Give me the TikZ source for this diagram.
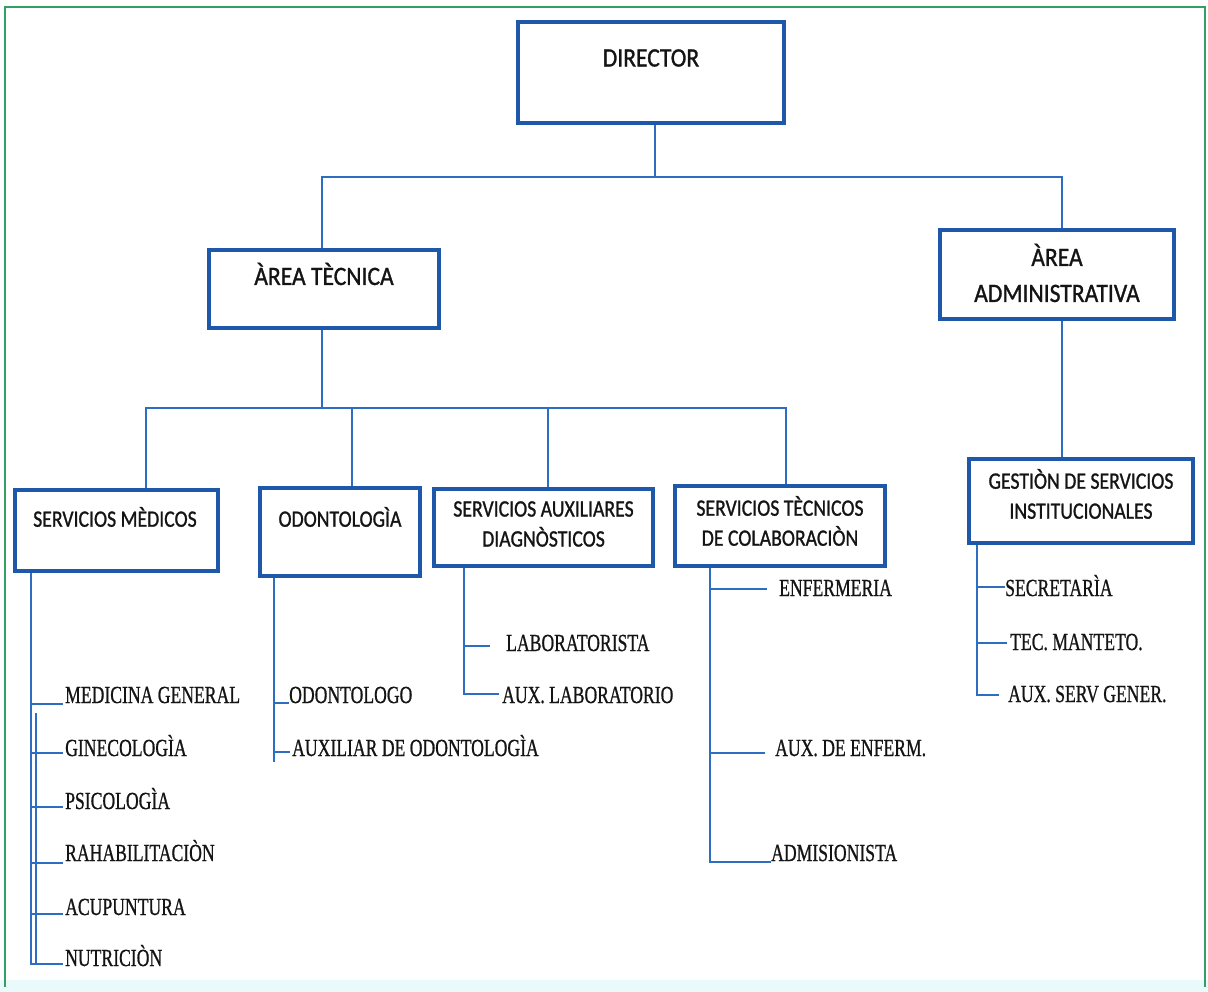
\documentclass[tikz,border=0pt]{standalone}
\usepackage{fontspec}
\setmainfont{Liberation Serif}
\newfontfamily\boxfont[FakeBold=1.2]{Carlito}
\newfontfamily\leaffont[FakeBold=1.0]{Liberation Serif}

\definecolor{boxblue}{RGB}{30,88,170}
\definecolor{lineblue}{RGB}{45,110,195}
\definecolor{framegreen}{RGB}{50,160,100}
\definecolor{inkblack}{RGB}{20,20,20}
\definecolor{bandcyan}{RGB}{234,250,250}

% horizontally condensed text
\newcommand{\cwide}[1]{\scalebox{0.89}[1]{#1}}
\newcommand{\cmed}[1]{\scalebox{0.84}[1]{#1}}
\newcommand{\cleaf}[1]{\scalebox{0.72}[1]{#1}}

\begin{document}
\begin{tikzpicture}[x=1pt,y=-1pt,
  boxst/.style={draw=boxblue, line width=4pt, inner sep=0pt},
  bigt/.style={font=\boxfont\fontsize{26.5}{36}\selectfont, text=inkblack, align=center, inner sep=0pt},
  smt/.style={font=\boxfont\fontsize{23.5}{30}\selectfont, text=inkblack, align=center, inner sep=0pt},
  leaf/.style={font=\leaffont\fontsize{24.5}{26}\selectfont, text=inkblack, anchor=base west, inner sep=0pt},
  conn/.style={draw=lineblue, line width=1.5pt},
]
\useasboundingbox (0,0) rectangle (1208,992);

% page frame and bottom band
\fill[bandcyan] (0,980) rectangle (1208,992);
\draw[framegreen, line width=1.3pt] (5,987) -- (5,7) -- (1205,7) -- (1205,987);

% ---- boxes ----
\node[boxst, minimum width=266pt, minimum height=101pt] (dir) at (651,72.5) {};
\node[bigt] (dirT) at (651,58) {\cwide{DIRECTOR}};

\node[boxst, minimum width=230pt, minimum height=78pt] (tec) at (324,289) {};
\node[bigt] (tecT) at (324,274) {\cwide{ÀREA TÈCNICA}};

\node[boxst, minimum width=234pt, minimum height=89pt] (adm) at (1057,274.5) {};
\node[bigt] (admT) at (1057,273) {\cwide{ÀREA}\\\cwide{ADMINISTRATIVA}};

\node[boxst, minimum width=203pt, minimum height=81pt] (med) at (116.5,530.5) {};
\node[smt] (medT) at (115,517) {\cmed{SERVICIOS MÈDICOS}};

\node[boxst, minimum width=160pt, minimum height=88pt] (odo) at (340,532) {};
\node[smt] (odoT) at (340,517) {\cmed{ODONTOLOGÌA}};

\node[boxst, minimum width=219pt, minimum height=77pt] (sad) at (543.5,527.5) {};
\node[smt] (sadT) at (543.5,524) {\cmed{SERVICIOS AUXILIARES}\\\cmed{DIAGNÒSTICOS}};

\node[boxst, minimum width=210pt, minimum height=80pt] (stc) at (780,526) {};
\node[smt] (stcT) at (780,521) {\cmed{SERVICIOS TÈCNICOS}\\\cmed{DE COLABORACIÒN}};

\node[boxst, minimum width=224pt, minimum height=84pt] (gsi) at (1081,501) {};
\node[smt] (gsiT) at (1081,494) {\cmed{GESTIÒN DE SERVICIOS}\\\cmed{INSTITUCIONALES}};

% ---- first level connectors ----
\coordinate (jd) at (655,177);
\coordinate (jl) at (322,177);
\coordinate (jr) at (1062,177);
\draw[conn] (jd|-dir.south) -- (jd);
\draw[conn, line width=2pt] (jl|-tec.north) -- (jl) -- (jr) -- (jr|-adm.north);

% ---- second level connectors ----
\coordinate (kt) at (322,408);
\coordinate (kl) at (146,408);
\coordinate (kr) at (786,408);
\coordinate (ko) at (352,408);
\coordinate (ks) at (548,408);
\draw[conn] (kt|-tec.south) -- (kt);
\draw[conn, line width=2pt] (kl|-med.north) -- (kl) -- (kr) -- (kr|-stc.north);
\draw[conn] (ko) -- (ko|-odo.north);
\draw[conn] (ks) -- (ks|-sad.north);
\draw[conn] (jr|-adm.south) -- (jr|-gsi.north);

% ---- leaves: servicios medicos ----
\node[leaf] (mg)  at (65,703) {\cleaf{MEDICINA GENERAL}};
\node[leaf] (gin) at (65,756) {\cleaf{GINECOLOGÌA}};
\node[leaf] (psi) at (65,809) {\cleaf{PSICOLOGÌA}};
\node[leaf] (rah) at (65,861) {\cleaf{RAHABILITACIÒN}};
\node[leaf] (acu) at (65,915) {\cleaf{ACUPUNTURA}};
\node[leaf] (nut) at (65,966) {\cleaf{NUTRICIÒN}};
\coordinate (vm) at (31,0);
\coordinate (vm2) at (36,713);
\draw[conn] (vm|-med.south) |- ([xshift=-2pt,yshift=2pt]nut.base west);
\draw[conn, line width=1.1pt] (vm2) -- ++(0,251);
\draw[conn] ([xshift=-2pt,yshift=-1pt]mg.base west) -- ++(-32,0);
\draw[conn] ([xshift=-2pt,yshift=3pt]gin.base west) -- ++(-32,0);
\draw[conn] ([xshift=-2pt,yshift=2pt]psi.base west) -- ++(-32,0);
\draw[conn] ([xshift=-2pt,yshift=-2pt]rah.base west) -- ++(-32,0);
\draw[conn] ([xshift=-2pt,yshift=1pt]acu.base west) -- ++(-32,0);

% ---- leaves: odontologia ----
\node[leaf] (odg) at (289,703) {\cleaf{ODONTOLOGO}};
\node[leaf] (aod) at (292,756) {\cleaf{AUXILIAR DE ODONTOLOGÌA}};
\coordinate (vo) at (274,762);
\draw[conn] (vo|-odo.south) -- (vo);
\draw[conn] ([yshift=0pt]odg.base west) -- ++(-15,0);
\draw[conn] ([xshift=-2pt,yshift=4pt]aod.base west) -- ++(-16,0);

% ---- leaves: servicios auxiliares ----
\node[leaf] (lab)  at (506,651) {\cleaf{LABORATORISTA}};
\node[leaf] (alab) at (502,703) {\cleaf{AUX. LABORATORIO}};
\coordinate (va) at (464,0);
\draw[conn] (va|-sad.south) |- ([xshift=-3pt,yshift=9pt]alab.base west);
\draw[conn] ([xshift=-16pt,yshift=5pt]lab.base west) -- ++(-26,0);

% ---- leaves: servicios tecnicos ----
\node[leaf] (enf)  at (779,596) {\cleaf{ENFERMERIA}};
\node[leaf] (aenf) at (775,756) {\cleaf{AUX. DE ENFERM.}};
\node[leaf] (adms) at (771,861) {\cleaf{ADMISIONISTA}};
\coordinate (vt) at (710,0);
\draw[conn] (vt|-stc.south) |- ([yshift=-1pt]adms.base west);
\draw[conn] ([xshift=-12pt,yshift=7pt]enf.base west) -- ++(-57,0);
\draw[conn] ([xshift=-10pt,yshift=3pt]aenf.base west) -- ++(-55,0);

% ---- leaves: gestion ----
\node[leaf] (sec) at (1005,596) {\cleaf{SECRETARÌA}};
\node[leaf] (man) at (1010,650) {\cleaf{TEC. MANTETO.}};
\node[leaf] (asg) at (1008,702) {\cleaf{AUX. SERV GENER.}};
\coordinate (vg) at (977,0);
\draw[conn] (vg|-gsi.south) |- ([xshift=-9pt,yshift=7pt]asg.base west);
\draw[conn] ([yshift=9pt]sec.base west) -- ++(-28,0);
\draw[conn] ([xshift=-3pt,yshift=7pt]man.base west) -- ++(-30,0);

\end{tikzpicture}
\end{document}
